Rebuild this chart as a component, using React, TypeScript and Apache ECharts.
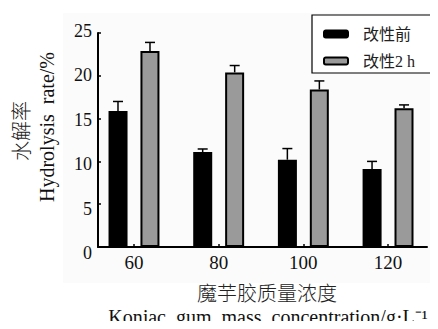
import React, { useEffect, useRef } from "react";
import * as echarts from "echarts";

const concentrations = [60, 80, 100, 120];
const seriesNames = ["改性前", "改性2 h"];
const beforeValues = [15.9, 11.1, 10.2, 9.1];
const beforeErrors = [1.1, 0.35, 1.3, 0.9];
const after2hValues = [22.9, 20.4, 18.4, 16.2];
const after2hErrors = [1.0, 0.8, 1.0, 0.4];
const yTicks = [0, 5, 10, 15, 20, 25];

const SERIF = "'Liberation Serif', 'Times New Roman', 'Noto Sans CJK SC', serif";

export default function App() {
  const ref = useRef<HTMLDivElement>(null);
  useEffect(() => {
    if (!ref.current) return;
    const chart = echarts.init(ref.current, null, { renderer: "svg" });
    const barW = 19;
    const offset = 16;
    const errData = (vals: number[], errs: number[], off: number) =>
      concentrations.map((c, i) => [c, vals[i], vals[i] + errs[i], off]);
    const renderErr = (params: any, api: any) => {
      const x = api.value(0);
      const y0 = api.value(1);
      const y1 = api.value(2);
      const off = api.value(3);
      const p0 = api.coord([x, y0]);
      const p1 = api.coord([x, y1]);
      const cx = p0[0] + off;
      return {
        type: "group",
        children: [
          { type: "line", shape: { x1: cx, y1: p0[1], x2: cx, y2: p1[1] }, style: { stroke: "#000", lineWidth: 1.5 } },
          { type: "line", shape: { x1: cx - 5, y1: p1[1], x2: cx + 5, y2: p1[1] }, style: { stroke: "#000", lineWidth: 1.5 } },
        ],
      };
    };
    chart.setOption({
      animation: false,
      backgroundColor: "#fff",
      grid: [
        { left: 98, right: 11, top: 33, bottom: 82, outerBoundsMode: "none" },
        { left: 98, right: 11, top: 31, bottom: 76, outerBoundsMode: "none" },
      ],
      legend: {
        left: 318,
        top: 21,
        orient: "vertical",
        itemWidth: 24,
        itemHeight: 7,
        itemGap: 11,
        textStyle: { fontSize: 16, fontFamily: SERIF, color: "#222", padding: [0, 0, 0, 10] },
        data: seriesNames,
      },
      xAxis: [
        {
          type: "value",
          min: 51.5,
          max: 129.2,
          splitLine: { show: false },
          axisLine: { show: true, lineStyle: { color: "#000", width: 2 } },
          axisTick: { show: true, inside: true, length: 3, customValues: concentrations, lineStyle: { color: "#000", width: 1.5 } },
          axisLabel: { customValues: concentrations, fontSize: 19, fontFamily: SERIF, color: "#111", margin: 6 },
        },
        { type: "value", gridIndex: 1, min: 51.5, max: 129.2, show: false },
      ],
      yAxis: [
        {
          type: "value",
          min: 0,
          max: 25,
          interval: 5,
          splitLine: { show: false },
          axisLine: { show: true, lineStyle: { color: "#000", width: 2 } },
          axisTick: { show: true, inside: true, length: 3, lineStyle: { color: "#000", width: 1.5 } },
          axisLabel: { show: false },
        },
        {
          type: "value",
          gridIndex: 1,
          min: 0,
          max: 25,
          interval: 5,
          splitLine: { show: false },
          axisLine: { show: false },
          axisTick: { show: false },
          axisLabel: { customValues: yTicks, fontSize: 18, fontFamily: SERIF, color: "#111", margin: 6 },
        },
      ],
      series: [
        {
          name: seriesNames[0],
          type: "bar",
          barWidth: barW,
          barGap: "68%",
          data: concentrations.map((c, i) => [c, beforeValues[i]]),
          itemStyle: { color: "#000", borderColor: "#000", borderWidth: 2 },
        },
        {
          name: seriesNames[1],
          type: "bar",
          barWidth: barW,
          barGap: "68%",
          data: concentrations.map((c, i) => [c, after2hValues[i]]),
          itemStyle: { color: "#9a9a9a", borderColor: "#000", borderWidth: 2 },
        },
        {
          type: "custom",
          renderItem: renderErr,
          data: errData(beforeValues, beforeErrors, -offset),
          z: 5,
          silent: true,
        },
        {
          type: "custom",
          renderItem: renderErr,
          data: errData(after2hValues, after2hErrors, offset),
          z: 5,
          silent: true,
        },
      ],
      graphic: [
        { type: "rect", z: -10, shape: { x: 63, y: 13, width: 375, height: 270 }, style: { fill: "#fbfbfb" } },
        { type: "rect", shape: { x: 312, y: 15, width: 124, height: 58 }, style: { fill: "#fff", stroke: "#000", lineWidth: 1.2 }, z: -5 },
        {
          type: "text",
          x: 22,
          y: 131,
          rotation: Math.PI / 2,
          style: { text: "水解率", font: `300 20px ${SERIF}`, fill: "#222", align: "center", verticalAlign: "middle" },
        },
        {
          type: "text",
          x: 47,
          y: 127,
          rotation: Math.PI / 2,
          style: { text: "Hydrolysis  rate/%", font: `20px ${SERIF}`, fill: "#111", align: "center", verticalAlign: "middle" },
        },
        {
          type: "text",
          x: 267,
          y: 294,
          style: { text: "魔芋胶质量浓度", font: `300 20px ${SERIF}`, fill: "#222", align: "center", verticalAlign: "middle" },
        },
        {
          type: "text",
          x: 268,
          y: 317,
          style: { text: "Konjac  gum  mass  concentration/g·L⁻¹", font: `20px ${SERIF}`, fill: "#111", align: "center", verticalAlign: "middle" },
        },
      ],
    });
    return () => chart.dispose();
  }, []);
  return <div ref={ref} style={{ width: 438, height: 329, margin: -8 }} />;
}
